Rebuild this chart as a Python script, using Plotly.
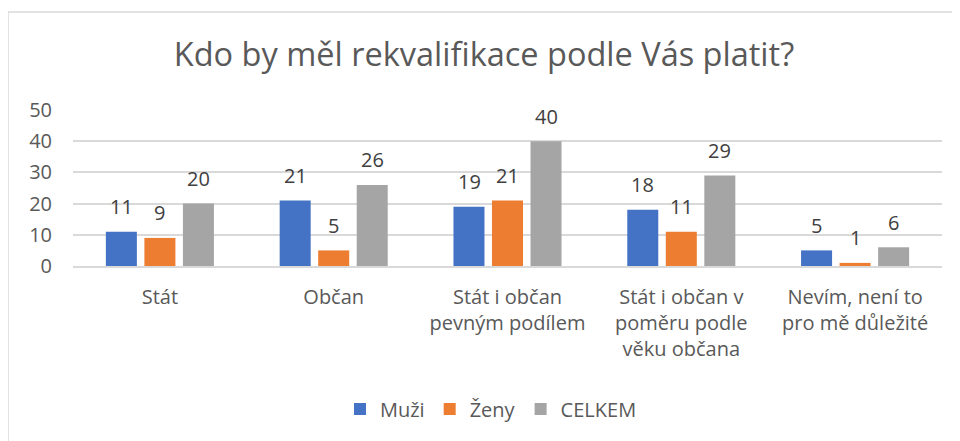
import plotly.graph_objects as go

# Data
categories = ["Stát", "Občan", "Stát i občan<br>pevným podílem",
              "Stát i občan v<br>poměru podle<br>věku občana",
              "Nevím, není to<br>pro mě důležité"]
muzi = [11, 21, 19, 18, 5]
zeny = [9, 5, 21, 11, 1]
celkem = [20, 26, 40, 29, 6]
series = [("Muži", muzi, "#4472C4"), ("Ženy", zeny, "#ED7D31"), ("CELKEM", celkem, "#A5A5A5")]
y_ticks = [0, 10, 20, 30, 40, 50]

font_name = "Open Sans"
fig = go.Figure()
for name, vals, color in series:
    fig.add_trace(go.Bar(x=categories, y=vals, name=name, marker_color=color,
                         marker_line_width=0))

# data labels above the bars (Excel style, a bit higher than plotly default)
shifts = [-38.5, 0, 38.5]
for (name, vals, color), dx in zip(series, shifts):
    for c, v in zip(categories, vals):
        fig.add_annotation(x=c, y=v, text=str(v), showarrow=False, xshift=dx, yshift=25,
                           font=dict(family=font_name, size=20, color="#404040"))

# outer chart frame (page has an 8px body margin, figure starts at the frame)
fig.add_shape(type="rect", xref="paper", yref="paper", x0=-65 / 869, x1=1.2, y0=-3,
              y1=(266 - 12) / 156,
              line=dict(color="#d9d9d9", width=1.5), fillcolor="rgba(0,0,0,0)", layer="below")

fig.update_layout(
    width=952, height=433,
    margin=dict(l=65, r=18, t=102, b=175),
    paper_bgcolor="white", plot_bgcolor="white",
    font=dict(family=font_name, color="#595959", size=20),
    title=dict(text="Kdo by měl rekvalifikace podle Vás platit?", x=0.5, xanchor="center",
               y=1 - 47 / 433, yanchor="middle", font=dict(size=32.5, color="#595959")),
    barmode="group", bargap=0.335, bargroupgap=0.195,
    showlegend=True,
    legend=dict(orientation="h", x=0.481, xanchor="center", y=-(401 - 258) / 156,
                yanchor="middle", font=dict(size=20, color="#595959"), itemwidth=30,
                traceorder="normal"),
)
fig.update_yaxes(range=[0, 50], tickvals=y_ticks, showgrid=True, gridcolor="#d9d9d9",
                 gridwidth=1.5, zeroline=False, showline=False, ticklabelstandoff=20,
                 tickfont=dict(size=20, color="#595959"))
fig.update_xaxes(showline=True, linecolor="#d9d9d9", linewidth=1.5, ticks="",
                 ticklabelstandoff=12, tickfont=dict(size=20, color="#595959"))

fig.write_html("out.html")
